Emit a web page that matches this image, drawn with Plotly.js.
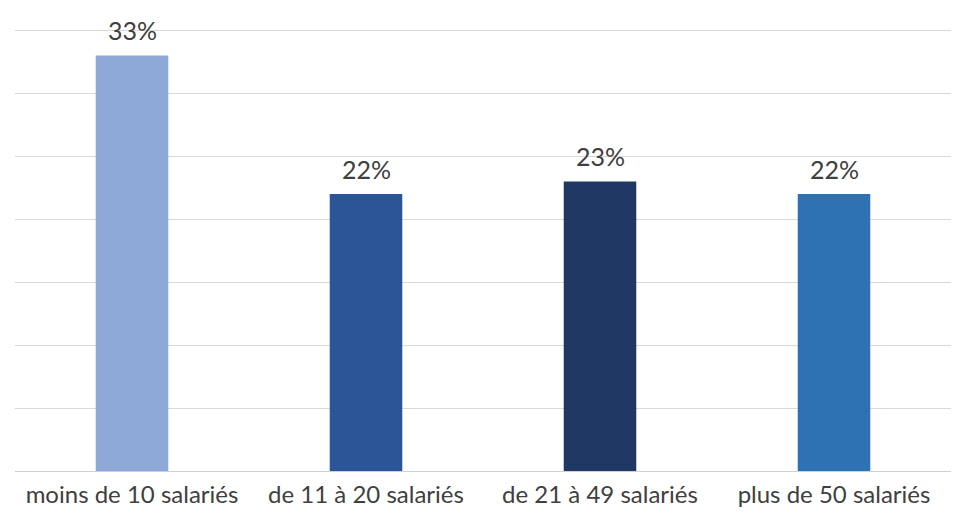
<!DOCTYPE html>
<html>
<head>
<meta charset="utf-8">
<script src="https://cdn.plot.ly/plotly-3.0.1.min.js"></script>
<style>html,body{margin:0;padding:0;background:#fff;}#chart{width:965px;height:519px;}</style>
</head>
<body>
<div id="chart"></div>
<script>
const categories = ["moins de 10 salariés", "de 11 à 20 salariés", "de 21 à 49 salariés", "plus de 50 salariés"];
const values = [33, 22, 23, 22];
const barColors = ["#8EA8D7", "#2B5597", "#203864", "#2E72B4"];

const FONT = "Lato, 'Open Sans', sans-serif";

const trace = {
  type: "bar",
  x: categories,
  y: values,
  marker: {color: barColors},
  hoverinfo: "none"
};

const annotations = categories.map((c, i) => ({
  x: c,
  y: values[i],
  xref: "x",
  yref: "y",
  text: values[i] + "%",
  showarrow: false,
  yanchor: "middle",
  yshift: 25,
  font: {family: FONT, size: 25, color: "#404040"}
}));

const layout = {
  width: 965,
  height: 519,
  margin: {l: 15, r: 14, t: 24, b: 48},
  paper_bgcolor: "#ffffff",
  plot_bgcolor: "#ffffff",
  bargap: 0.69,
  showlegend: false,
  font: {family: FONT, color: "#404040"},
  annotations: annotations,
  xaxis: {
    type: "category",
    tickfont: {size: 24, color: "#404040"},
    ticklabelstandoff: 7,
    showline: false,
    ticks: "",
    showgrid: false
  },
  yaxis: {
    range: [0, 35.5],
    dtick: 5,
    showticklabels: false,
    showgrid: true,
    gridcolor: "#D9D9D9",
    gridwidth: 1,
    zeroline: true,
    zerolinecolor: "#D0D0D0",
    zerolinewidth: 1,
    ticks: ""
  }
};

Plotly.newPlot("chart", [trace], layout, {displayModeBar: false, staticPlot: true});
</script>
</body>
</html>
